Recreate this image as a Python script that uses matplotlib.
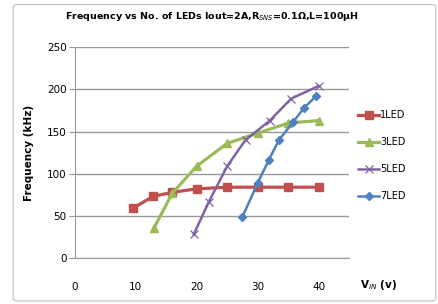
import matplotlib.pyplot as plt
from matplotlib.patches import FancyBboxPatch

# data
x_1led = [9.5, 12.8, 16, 20, 25, 30, 35, 40]
y_1led = [59, 73, 78, 82, 84, 84, 84, 84]

x_3led = [13, 16, 20, 25, 30, 35, 40]
y_3led = [36, 77, 109, 136, 148, 160, 163]

x_5led = [19.5, 22, 25, 28, 32, 35.5, 40]
y_5led = [28, 67, 109, 140, 163, 189, 204]

x_7led = [27.5, 30, 31.8, 33.5, 35.8, 37.6, 39.6]
y_7led = [49, 89, 116, 140, 161, 178, 192]

fig = plt.figure(figsize=(4.38, 3.04), dpi=100)
fig.patches.append(FancyBboxPatch((0.03, 0.01), 0.965, 0.975, boxstyle="round,pad=0,rounding_size=0.01",
                                  transform=fig.transFigure, fill=False, edgecolor="#bfbfbf", linewidth=0.8))
ax = fig.add_axes([0.171, 0.151, 0.626, 0.694])

ax.plot(x_1led, y_1led, color="#C0504D", marker="s", markersize=6, linewidth=2.3, label="1LED")
ax.plot(x_3led, y_3led, color="#9BBB59", marker="^", markersize=6, linewidth=2.3, label="3LED")
ax.plot(x_5led, y_5led, color="#8064A2", marker="x", markersize=6, markeredgewidth=0.9, linewidth=1.8, label="5LED")
ax.plot(x_7led, y_7led, color="#4F81BD", marker="D", markersize=4.5, linewidth=1.8, label="7LED")

ax.set_xlim(0, 45)
ax.set_ylim(0, 250)
ax.set_yticks([0, 50, 100, 150, 200, 250])
ax.set_xticks([0, 10, 20, 30, 40])
ax.grid(axis="y", color="#999999", linewidth=1)
ax.set_axisbelow(True)
for s in ["top", "right"]:
    ax.spines[s].set_visible(False)
ax.spines["left"].set_color("#999999")
ax.spines["bottom"].set_color("#999999")
ax.tick_params(axis="y", length=4, color="#999999", labelsize=7.5, pad=2)
ax.tick_params(axis="x", length=0, labelsize=7.5, pad=17)

ax.set_title("Frequency vs No. of LEDs Iout=2A,R$_{SNS}$=0.1Ω,L=100μH", fontsize=6.8, fontweight="bold", pad=20)
ax.set_ylabel("Frequency (kHz)", fontsize=7.5, fontweight="bold", labelpad=9)
ax.text(1.04, -0.14, "V$_{IN}$ (v)", transform=ax.transAxes, fontsize=7.5, fontweight="bold")

ax.legend(loc="center left", bbox_to_anchor=(1.0, 0.486), frameon=False, fontsize=7,
          handlelength=2.2, handletextpad=0.1, labelspacing=1.75)

fig.savefig("out.png", dpi=100)
